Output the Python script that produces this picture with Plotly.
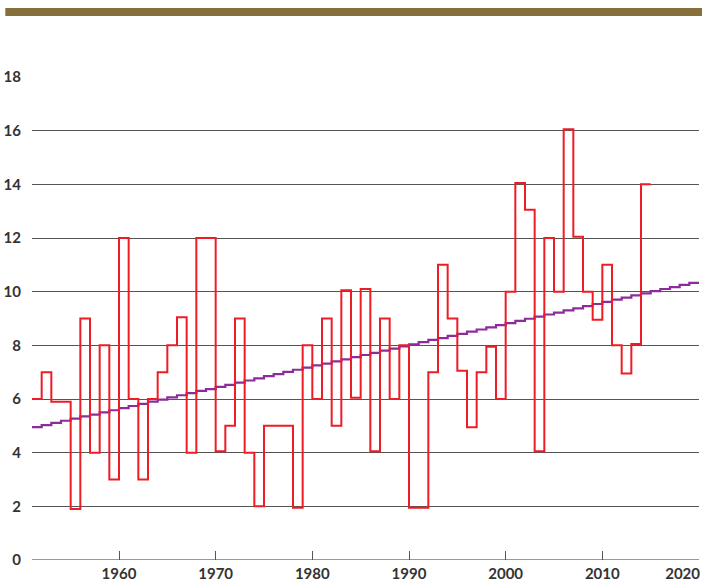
import plotly.graph_objects as go

# Annual values (red step line)
years = list(range(1951, 2015))
values = [6.0, 7.0, 5.9, 5.9, 1.9, 9.0, 4.0, 8.0, 3.0, 12.0,
          6.0, 3.0, 6.0, 7.0, 8.0, 9.05, 4.0, 12.0, 12.0, 4.05,
          5.0, 9.0, 4.0, 2.0, 5.0, 5.0, 5.0, 1.95, 8.0, 6.0,
          9.0, 5.0, 10.05, 6.05, 10.1, 4.05, 9.0, 6.0, 8.0, 1.95,
          1.95, 7.0, 11.0, 9.0, 7.05, 4.95, 7.0, 7.95, 6.0, 10.0,
          14.05, 13.05, 4.05, 12.0, 10.0, 16.05, 12.05, 10.0, 8.95, 11.0,
          8.0, 6.95, 8.05, 14.0]

# Trend (purple step line)
trend_years = list(range(1951, 2020))
trend_values = [4.95, 5.03, 5.11, 5.19, 5.27, 5.35, 5.42, 5.50, 5.58, 5.66,
                5.74, 5.82, 5.90, 5.98, 6.06, 6.14, 6.22, 6.30, 6.37, 6.45,
                6.53, 6.61, 6.69, 6.77, 6.85, 6.93, 7.01, 7.09, 7.17, 7.25,
                7.32, 7.40, 7.48, 7.56, 7.64, 7.72, 7.80, 7.88, 7.96, 8.04,
                8.12, 8.20, 8.27, 8.35, 8.43, 8.51, 8.59, 8.67, 8.75, 8.83,
                8.91, 8.99, 9.07, 9.15, 9.22, 9.30, 9.38, 9.46, 9.54, 9.62,
                9.70, 9.78, 9.86, 9.94, 10.02, 10.10, 10.17, 10.25, 10.33]

x_ticks = [1960, 1970, 1980, 1990, 2000, 2010, 2020]
x_tick_labels = ["1960", "1970", "1980", "1990", "2000", "2010", "2020"]
y_ticks = [0, 2, 4, 6, 8, 10, 12, 14, 16, 18]

# the last label is pulled left so it stays inside the page, as in the original
x_tick_text = x_tick_labels[:-1] + [x_tick_labels[-1] + "\u00a0" * 9]

fig = go.Figure()

fig.add_trace(go.Scatter(
    x=trend_years + [trend_years[-1] + 1], y=trend_values + [trend_values[-1]],
    mode="lines", line=dict(color="#8b2c9a", width=2.2, shape="hv"),
    hoverinfo="skip", showlegend=False))

fig.add_trace(go.Scatter(
    x=years + [years[-1] + 1], y=values + [values[-1]],
    mode="lines", line=dict(color="#ee1c25", width=2, shape="hv"),
    hoverinfo="skip", showlegend=False))

font = dict(family="Lato", size=15, color="#333333", weight="bold")

fig.update_layout(
    width=702, height=582,
    margin=dict(l=32, r=3, t=77, b=22),
    paper_bgcolor="white", plot_bgcolor="white",
    font=font,
    xaxis=dict(
        range=[1951, 2020], tickvals=x_ticks, ticktext=x_tick_text,
        ticks="inside", ticklen=9,
        tickcolor="#555555", tickwidth=1, showgrid=False, zeroline=False,
        showline=False, automargin=False, tickfont=font, ticklabelstandoff=3,
        ticklabeloverflow="allow",
    ),
    yaxis=dict(
        range=[0, 18], tickvals=y_ticks, showgrid=True, gridcolor="#555555",
        gridwidth=1, zeroline=False, showline=False, automargin=False,
        tickfont=font, ticklabelstandoff=10,
    ),
    shapes=[
        dict(type="rect", xref="paper", yref="paper", x0=-0.04, x1=1.01,
             y0=1 + 61 / 483, y1=1 + 69 / 483, fillcolor="#876f3b",
             line=dict(width=0), layer="above"),
        dict(type="line", xref="paper", yref="y", x0=0, x1=1, y0=0, y1=0,
             line=dict(color="#777777", width=1.5), layer="below"),
    ],
)

fig.write_html("out.html", config={"displayModeBar": False})

# remove the browser's default page margin so the figure sits at (0, 0)
with open("out.html", "r", encoding="utf-8") as f:
    html = f.read()
html = html.replace("<head>", "<head><style>html,body{margin:0;padding:0;overflow:hidden;}</style>", 1)
with open("out.html", "w", encoding="utf-8") as f:
    f.write(html)
